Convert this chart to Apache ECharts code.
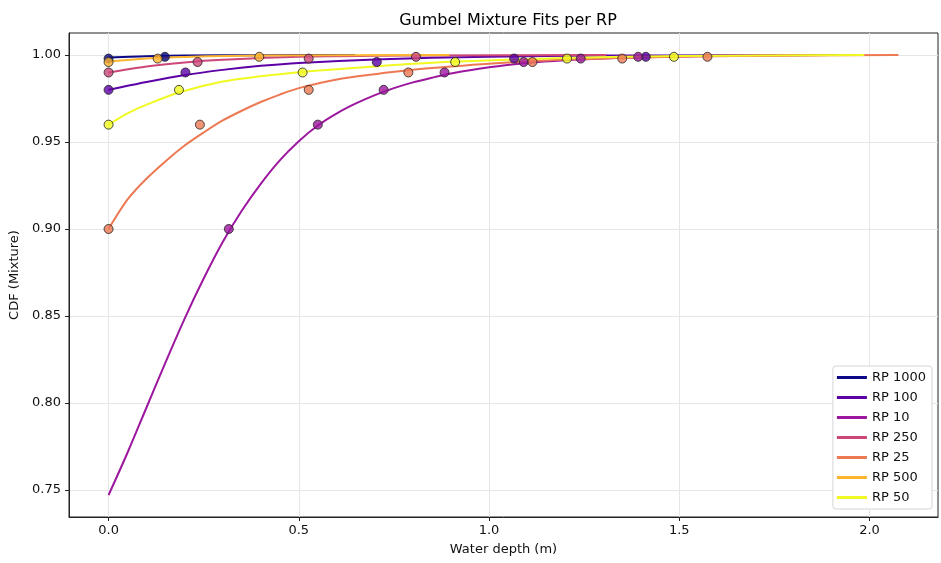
<!DOCTYPE html>
<html>
<head>
<meta charset="utf-8">
<script src="https://cdn.jsdelivr.net/npm/echarts@6/dist/echarts.min.js"></script>
<style>
  html, body { margin: 0; padding: 0; background: #fff; }
  #chart { width: 941px; height: 563px; }
</style>
</head>
<body>
<div id="chart"></div>
<script>
// series names, in legend order
const rpNames = ["RP 1000", "RP 100", "RP 10", "RP 250", "RP 25", "RP 500", "RP 50"];

// fitted mixture curves [depth, cdf]
const fitRp1000 = [[0, 0.9986], [0.1, 0.9994], [0.2, 0.9998], [0.4, 0.99995], [0.648, 1.0]];
const fitRp100 = [[0, 0.980], [0.1, 0.9845], [0.2, 0.9885], [0.3, 0.9915], [0.4, 0.9938], [0.5, 0.9955], [0.7, 0.9975], [1.0, 0.9991], [1.3, 0.9997], [1.6, 0.9999], [1.912, 1.0]];
const fitRp10 = [[0, 0.747], [0.05, 0.7715], [0.1, 0.7975], [0.15, 0.8235], [0.2, 0.8485], [0.25, 0.8715], [0.3, 0.8925], [0.35, 0.9105], [0.4, 0.926], [0.45, 0.9395], [0.5, 0.9505], [0.55, 0.9595], [0.6, 0.9665], [0.65, 0.9722], [0.7, 0.977], [0.75, 0.981], [0.8, 0.9843], [0.85, 0.987], [0.9, 0.9894], [1.0, 0.993], [1.1, 0.9955], [1.2, 0.9971], [1.3, 0.9981], [1.4, 0.9988], [1.6, 0.9996], [1.892, 1.0]];
const fitRp250 = [[0, 0.990], [0.1, 0.9935], [0.2, 0.9958], [0.3, 0.9973], [0.5, 0.999], [0.8, 0.9997], [1.308, 1.0]];
const fitRp25 = [[0, 0.900], [0.05, 0.917], [0.1, 0.929], [0.15, 0.939], [0.2, 0.948], [0.25, 0.9555], [0.3, 0.9624], [0.35, 0.968], [0.4, 0.973], [0.45, 0.9773], [0.5, 0.981], [0.6, 0.986], [0.7, 0.989], [0.8, 0.9915], [0.9, 0.9934], [1.0, 0.995], [1.2, 0.9974], [1.5, 0.9991], [1.8, 0.9998], [2.076, 1.0]];
const fitRp500 = [[0, 0.9962], [0.1, 0.998], [0.2, 0.9989], [0.4, 0.9997], [0.896, 1.0]];
const fitRp50 = [[0, 0.960], [0.05, 0.9665], [0.1, 0.9715], [0.185, 0.9785], [0.3, 0.9848], [0.4, 0.9878], [0.5, 0.9902], [0.7, 0.9935], [0.9, 0.9961], [1.2, 0.9983], [1.5, 0.9995], [1.986, 1.0]];

// observed points [depth, cdf]
const ptsRp1000 = [[0, 0.998], [0.148, 0.999]];
const ptsRp100 = [[0, 0.98], [0.202, 0.99], [0.705, 0.996], [1.066, 0.998], [1.412, 0.999]];
const ptsRp10 = [[0.316, 0.90], [0.55, 0.96], [0.723, 0.98], [0.883, 0.99], [1.091, 0.996], [1.241, 0.998], [1.392, 0.999]];
const ptsRp250 = [[0, 0.99], [0.234, 0.996], [0.526, 0.998], [0.808, 0.999]];
const ptsRp25 = [[0, 0.90], [0.24, 0.96], [0.526, 0.98], [0.788, 0.99], [1.114, 0.996], [1.35, 0.998], [1.574, 0.999]];
const ptsRp500 = [[0, 0.996], [0.129, 0.998], [0.396, 0.999]];
const ptsRp50 = [[0, 0.96], [0.185, 0.98], [0.51, 0.99], [0.911, 0.996], [1.205, 0.998], [1.486, 0.999]];

// tick labels
const xTicks = [0, 0.5, 1.0, 1.5, 2.0];
const yTicks = [0.75, 0.80, 0.85, 0.90, 0.95, 1.00];

const fits = [fitRp1000, fitRp100, fitRp10, fitRp250, fitRp25, fitRp500, fitRp50];
const points = [ptsRp1000, ptsRp100, ptsRp10, ptsRp250, ptsRp25, ptsRp500, ptsRp50];
// plasma colours
const colors = ["#0d0887", "#5c01a6", "#9c179e", "#cc4778", "#ed7953", "#fdb42f", "#f0f921"];

const font = "DejaVu Sans";
const series = [];
rpNames.forEach((name, i) => {
  series.push({
    name: name,
    type: "line",
    data: fits[i],
    smooth: 0.3,
    showSymbol: false,
    symbol: "none",
    lineStyle: { color: colors[i], width: 2 },
    itemStyle: { color: colors[i] },
    z: 2,
  });
});
rpNames.forEach((name, i) => {
  series.push({
    name: name + " pts",
    type: "scatter",
    data: points[i],
    symbolSize: 9,
    itemStyle: { color: colors[i], borderColor: "#222", borderWidth: 1 },
    z: 3,
  });
});

var myChart = echarts.init(document.getElementById("chart"));
myChart.setOption({
  animation: false,
  title: {
    text: "Gumbel Mixture Fits per RP",
    left: 503,
    top: 8,
    textAlign: "center",
    textStyle: { fontFamily: font, fontSize: 16, fontWeight: "normal", color: "#000" },
  },
  grid: {
    left: 69,
    right: 3,
    top: 33,
    bottom: 46,
    show: true,
    borderColor: "#222",
    borderWidth: 1,
  },
  legend: {
    data: rpNames,
    orient: "vertical",
    right: 9,
    bottom: 54,
    icon: "rect",
    itemWidth: 30,
    itemHeight: 3,
    itemGap: 7,
    padding: [5, 6, 5, 4],
    backgroundColor: "#fff",
    borderColor: "#d5d5d5",
    borderWidth: 1,
    borderRadius: 3,
    textStyle: { fontFamily: font, fontSize: 13, color: "#111" },
  },
  xAxis: {
    type: "value",
    min: -0.104,
    max: 2.18,
    name: "Water depth (m)",
    nameLocation: "middle",
    nameGap: 26,
    nameTextStyle: { fontFamily: font, fontSize: 13, color: "#111" },
    axisLine: { show: true, onZero: false, lineStyle: { color: "#222" } },
    axisTick: { show: true, length: 4, customValues: xTicks, lineStyle: { color: "#222" } },
    axisLabel: {
      customValues: xTicks,
      fontFamily: font,
      fontSize: 13,
      color: "#111",
      margin: 7,
      formatter: (v) => v.toFixed(1),
    },
    splitLine: { show: true, lineStyle: { color: "#e6e6e6" } },
  },
  yAxis: {
    type: "value",
    min: 0.7344,
    max: 1.0127,
    name: "CDF (Mixture)",
    nameLocation: "middle",
    nameGap: 45,
    nameTextStyle: { fontFamily: font, fontSize: 13, color: "#111" },
    axisLine: { show: true, onZero: false, lineStyle: { color: "#222" } },
    axisTick: { show: true, length: 4, customValues: yTicks, lineStyle: { color: "#222" } },
    axisLabel: {
      customValues: yTicks,
      fontFamily: font,
      fontSize: 13,
      color: "#111",
      margin: 8,
      formatter: (v) => v.toFixed(2),
    },
    splitLine: { show: true, lineStyle: { color: "#e6e6e6" } },
  },
  series: series,
});
</script>
</body>
</html>
